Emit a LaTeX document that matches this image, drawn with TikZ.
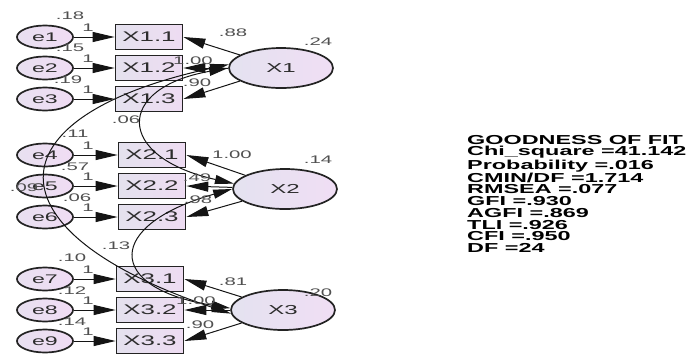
\documentclass[tikz,border=0pt]{standalone}
\usepackage{fontspec}
\setmainfont{Liberation Sans}
\newfontfamily\amos[FakeStretch=1.85]{Liberation Sans}
\newfontfamily\fitf[FakeStretch=1.8]{Liberation Sans}
\usetikzlibrary{shapes.geometric,arrows.meta}
\definecolor{bordc}{RGB}{35,35,35}
\definecolor{linec}{RGB}{20,20,20}
\definecolor{boxL}{RGB}{228,225,238}
\definecolor{boxR}{RGB}{238,220,242}
\definecolor{eL}{RGB}{232,224,240}
\definecolor{eR}{RGB}{240,220,244}
\definecolor{latL}{RGB}{228,226,240}
\definecolor{latR}{RGB}{240,222,244}
\definecolor{txtc}{RGB}{45,45,45}
\definecolor{numc}{RGB}{80,80,80}
\tikzset{
  obs/.style={draw=bordc, line width=1.7pt, rectangle, minimum width=67pt, minimum height=25pt, inner sep=0pt, left color=boxL, right color=boxR, text=txtc, font=\amos\fontsize{14}{16}\selectfont},
  err/.style={draw=bordc, line width=1.7pt, ellipse, minimum width=56pt, minimum height=23pt, inner sep=0pt, left color=eL, right color=eR, text=txtc, font=\amos\fontsize{12.5}{14}\selectfont},
  lat/.style={draw=bordc, line width=1.7pt, ellipse, minimum width=104pt, minimum height=40pt, inner sep=0pt, left color=latL, right color=latR, text=txtc, font=\amos\fontsize{13}{15}\selectfont},
  lbl/.style={inner sep=0pt, text=numc, font=\amos\fontsize{11}{13}\selectfont},
  arr/.style={draw=linec, line width=1pt, -{Triangle[length=22pt,width=10pt]}},
  cov/.style={draw=linec, line width=1pt, {Triangle[length=19pt,width=9pt]}-{Triangle[length=19pt,width=9pt]}},
  fit/.style={inner sep=0pt, anchor=north west, align=left, text=black, font=\fitf\bfseries\fontsize{13}{11.7}\selectfont}
}
\begin{document}
\begin{tikzpicture}[x=1pt,y=-1pt]
\useasboundingbox (0,0) rectangle (686,354);
% error terms
\node[err] (e1) at (45,37) {e1};
\node[err] (e2) at (45,68) {e2};
\node[err] (e3) at (45,99) {e3};
\node[err] (e4) at (45,155) {e4};
\node[err] (e5) at (45,186) {e5};
\node[err] (e6) at (45,217) {e6};
\node[err] (e7) at (45,279) {e7};
\node[err] (e8) at (45,310) {e8};
\node[err] (e9) at (45,341) {e9};
% observed
\node[obs] (x11) at (149,37) {X1.1};
\node[obs] (x12) at (149,68) {X1.2};
\node[obs] (x13) at (149,99) {X1.3};
\node[obs] (x21) at (152,155) {X2.1};
\node[obs] (x22) at (152,186) {X2.2};
\node[obs] (x23) at (152,217) {X2.3};
\node[obs] (x31) at (150,279) {X3.1};
\node[obs] (x32) at (150,310) {X3.2};
\node[obs] (x33) at (150,341) {X3.3};
% latent
\node[lat] (X1) at (281,68) {X1};
\node[lat] (X2) at (285,189) {X2};
\node[lat] (X3) at (283,310) {X3};
% error arrows
\foreach \e/\x in {e1/x11,e2/x12,e3/x13,e4/x21,e5/x22,e6/x23,e7/x31,e8/x32,e9/x33}
  \draw[arr] (\e.east) -- (\x.west);
% loadings
\draw[arr] (X1) -- (x11.east);
\draw[arr] (X1) -- (x12.east);
\draw[arr] (X1) -- (x13.east);
\draw[arr] (X2) -- (x21.east);
\draw[arr] (X2) -- (x22.east);
\draw[arr] (X2) -- (x23.east);
\draw[arr] (X3) -- (x31.east);
\draw[arr] (X3) -- (x32.east);
\draw[arr] (X3) -- (x33.east);
% covariances
\draw[cov] (X1.176) .. controls (-13,117) and (-13,232) .. (X3.184);
\draw[cov] (X1.180) .. controls (115,88) and (115,157) .. (X2.174);
\draw[cov] (X2.180) .. controls (105,225) and (105,288) .. (X3.178);
% labels "1"
\node[lbl] (o1) at (88,28) {1};
\node[lbl] (o2) at (88,59) {1};
\node[lbl] (o3) at (88,90) {1};
\node[lbl] (o4) at (88,146) {1};
\node[lbl] (o5) at (88,177) {1};
\node[lbl] (o6) at (88,208) {1};
\node[lbl] (o7) at (88,270) {1};
\node[lbl] (o8) at (88,301) {1};
\node[lbl] (o9) at (88,332) {1};
% error variances
\node[lbl] (v1) at (70,16) {.18};
\node[lbl] (v2) at (70,48) {.15};
\node[lbl] (v3) at (68,80) {.19};
\node[lbl] (v4) at (75,134) {.11};
\node[lbl] (v5) at (75,167) {.57};
\node[lbl] (v6) at (77,198) {.06};
\node[lbl] (v7) at (72,258) {.10};
\node[lbl] (v8) at (72,291) {.12};
\node[lbl] (v9) at (72,322) {.14};
% latent variances
\node[lbl] (w1) at (318,42) {.24};
\node[lbl] (w2) at (318,160) {.14};
\node[lbl] (w3) at (318,293) {.20};
% loading labels
\node[lbl] (l11) at (233,33) {.88};
\node[lbl] (l12) at (193,61) {1.00};
\node[lbl] (l13) at (197,83) {.90};
\node[lbl] (l21) at (232,155) {1.00};
\node[lbl] (l22) at (197,178) {.49};
\node[lbl] (l23) at (198,200) {.98};
\node[lbl] (l31) at (233,282) {.81};
\node[lbl] (l32) at (196,301) {1.00};
\node[lbl] (l33) at (200,325) {.90};
% covariance labels
\node[lbl] (c12) at (126,120) {.06};
\node[lbl] (c23) at (116,246) {.13};
\node[lbl] (c13) at (24,188) {.09};
% fit
\node[fit] (gof) at (467,135) {GOODNESS OF FIT\\Chi\_square =41.142\\Probability =.016\\CMIN/DF =1.714\\RMSEA =.077\\GFI =.930\\AGFI =.869\\TLI =.926\\CFI =.950\\DF =24};
\end{tikzpicture}
\end{document}
